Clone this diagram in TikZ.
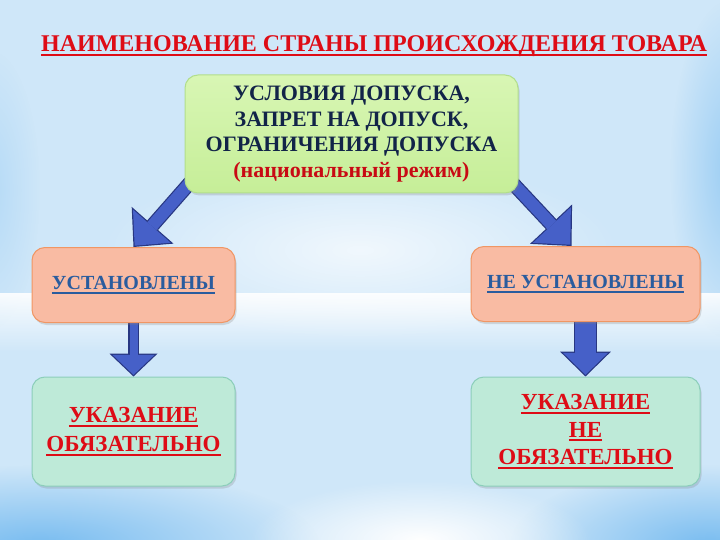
\documentclass[tikz,border=0pt]{standalone}
\usepackage{fontspec}
\setmainfont{Liberation Serif}
\newcommand{\thickul}[1]{\setbox0=\hbox{#1}\rlap{\rule[-4pt]{\wd0}{1.8pt}}\box0}
\usetikzlibrary{
    arrows.meta,
    shadows,
    fadings
}
\definecolor{skyblue}{RGB}{207,231,249}
\definecolor{skypale}{RGB}{234,245,253}
\definecolor{skydeep}{RGB}{120,188,240}
\definecolor{titlered}{RGB}{222,12,22}
\definecolor{darknavy}{RGB}{18,36,72}
\definecolor{regimered}{RGB}{200,10,20}
\definecolor{steelblue}{RGB}{42,92,158}
\definecolor{leafgreen}{RGB}{216,246,180}
\definecolor{leafgreendark}{RGB}{198,238,152}
\definecolor{leafedge}{RGB}{178,222,140}
\definecolor{salmon}{RGB}{249,187,163}
\definecolor{salmonedge}{RGB}{240,150,100}
\definecolor{mint}{RGB}{190,234,216}
\definecolor{mintedge}{RGB}{140,206,186}
\definecolor{arrowblue}{RGB}{70,96,200}
\definecolor{arrowrim}{RGB}{40,55,130}
\tikzfading[name=soft band, top color=transparent!100, middle color=transparent!0, bottom color=transparent!100]
\tikzfading[name=fade below, top color=transparent!0, bottom color=transparent!100]
\tikzfading[name=soft glow, inner color=transparent!0, outer color=transparent!100]
\pgfdeclarelayer{sky}
\pgfdeclarelayer{links}
\pgfsetlayers{sky,links,main}
\tikzset{
    % Boxes
    box/.style={rounded corners=13pt, line width=1pt, align=center, inner sep=4pt,
        drop shadow={shadow xshift=1.5pt, shadow yshift=-2.5pt, opacity=.25}},
    condition box/.style={box, draw=leafedge, top color=leafgreen, bottom color=leafgreendark,
        minimum width=333pt, minimum height=118pt, text=darknavy,
        font=\bfseries\fontsize{22}{25.7}\selectfont},
    status box/.style={box, draw=salmonedge, fill=salmon, minimum height=75pt,
        text=steelblue, font=\bfseries\fontsize{20}{24}\selectfont},
    result box/.style={box, draw=mintedge, fill=mint, minimum height=109pt,
        text=titlered, font=\bfseries\fontsize{23}{29}\selectfont},
    heading/.style={text=titlered, anchor=base, font=\bfseries\fontsize{24}{28}\selectfont},
    %
    % Glows of the sky
    glow/.style={path fading=soft glow}
}

\begin{document}
\begin{tikzpicture}[x=1pt, y=-1pt]
    \useasboundingbox (0,0) rectangle (720,540);

    \node[heading] (title) at (374,52) {\thickul{НАИМЕНОВАНИЕ СТРАНЫ ПРОИСХОЖДЕНИЯ ТОВАРА}};
    \node[condition box] (cond) at (351.5,134)
        {УСЛОВИЯ ДОПУСКА,\\ЗАПРЕТ НА ДОПУСК,\\ОГРАНИЧЕНИЯ ДОПУСКА\\\textcolor{regimered}{(национальный режим)}};
    \node[status box, minimum width=203pt] (set) at (133.5,285) {\thickul{УСТАНОВЛЕНЫ}};
    \node[status box, minimum width=229pt] (notset) at (585.5,284) {\thickul{НЕ УСТАНОВЛЕНЫ}};
    \node[result box, minimum width=203pt] (must) at (133.5,431.5)
        {\thickul{УКАЗАНИЕ}\\\thickul{ОБЯЗАТЕЛЬНО}};
    \node[result box, minimum width=229pt, font=\bfseries\fontsize{23}{27.5}\selectfont] (optional) at (585.5,431.5)
        {\thickul{УКАЗАНИЕ}\\\thickul{НЕ}\\\thickul{ОБЯЗАТЕЛЬНО}};

    \coordinate (cond left) at ([shift={(18,-25)}]cond.south west);
    \coordinate (cond right) at ([shift={(-13,-18)}]cond.south east);
    \coordinate (notset top) at ([xshift=-14pt]notset.north);

    \begin{pgfonlayer}{links}
        \foreach \from/\to/\shaft/\headw/\headl in {cond left/set.north/12/50/26,
                cond right/notset top/12/52/27, set.south/must.north/8/42/20,
                notset.south/optional.north/21/45/22}{
            \pgfmathsetmacro\tipgap{1.2/sin(atan(\headw/2/\headl))}
            \pgfmathsetmacro\rimlength{\headl+\tipgap+1.2}
            \pgfmathsetmacro\rimwidth{\headw*\rimlength/\headl}
            \pgfmathsetmacro\rimshaft{\shaft+2.4}
            \draw[arrowrim, line width=\rimshaft pt,
                -{Triangle[width=\rimwidth pt, length=\rimlength pt, line width=0pt]}] (\from) -- (\to);
            \draw[arrowblue, line width=\shaft pt, shorten >=\tipgap pt,
                -{Triangle[width=\headw pt, length=\headl pt, line width=0pt]}] (\from) -- (\to);
        }
    \end{pgfonlayer}

    \begin{pgfonlayer}{sky}
        \shade[top color=skyblue, middle color=skypale, bottom color=skyblue] (0,0) rectangle (720,540);
        \fill[white, opacity=.7, glow] (360,250) ellipse [x radius=260, y radius=90];
        \fill[skydeep, opacity=.6, glow] (730,170) ellipse [x radius=60, y radius=170];
        \fill[skydeep, opacity=.3, glow] (-10,190) ellipse [x radius=50, y radius=140];
        \fill[white, opacity=.9, path fading=fade below] (0,293) rectangle (720,352);
        \fill[white, opacity=.6, path fading=soft band] (0,380) rectangle (720,400);
        \fill[skydeep, glow] (40,545) ellipse [x radius=280, y radius=80];
        \fill[skydeep, glow] (710,545) ellipse [x radius=200, y radius=80];
        \fill[white, glow] (420,540) ellipse [x radius=170, y radius=60];
    \end{pgfonlayer}
\end{tikzpicture}
\end{document}
